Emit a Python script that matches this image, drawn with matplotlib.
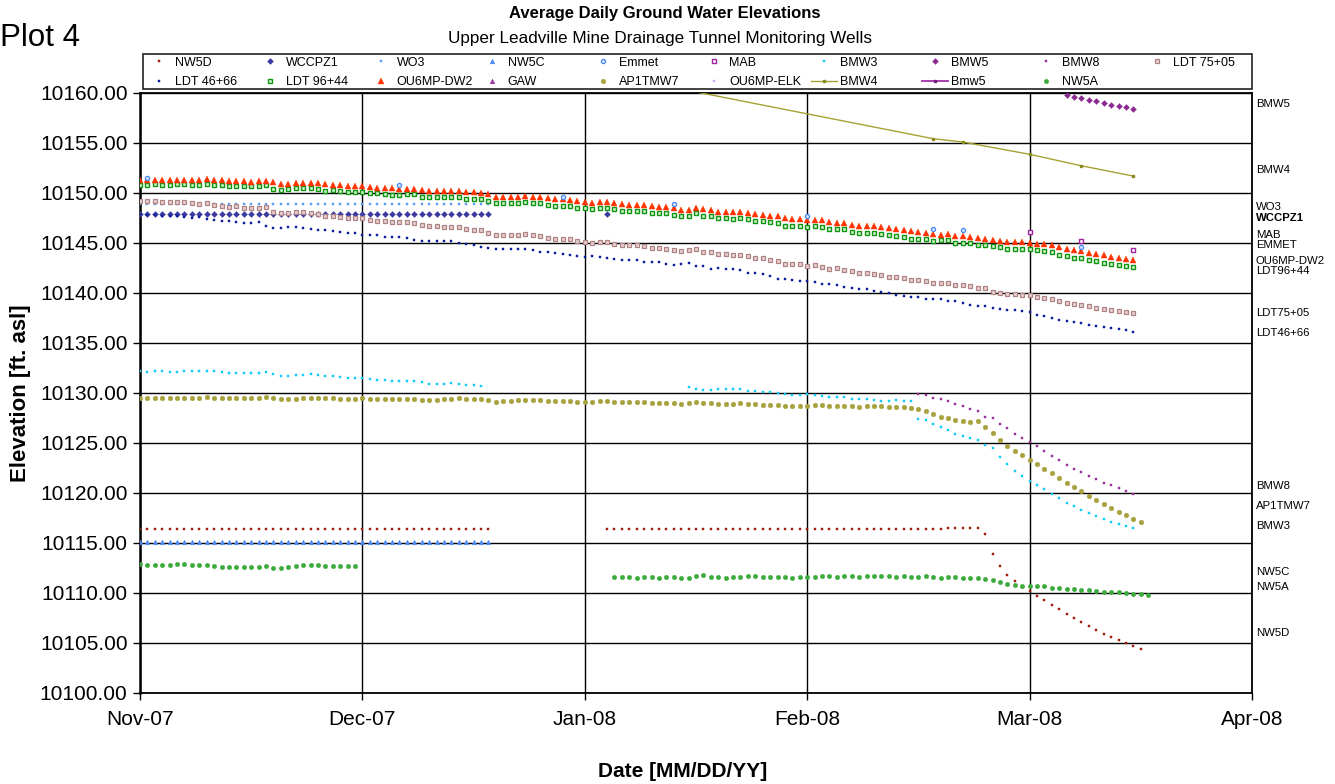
import numpy as np
import matplotlib
matplotlib.use("Agg")
import matplotlib.pyplot as plt
from matplotlib.transforms import blended_transform_factory
from matplotlib.patches import Rectangle

plt.rcParams['font.family'] = ['Liberation Sans', 'DejaVu Sans']

# ---------------------------------------------------------------- axes data
# x values are days counted from 01-Nov-2007 on the chart's 30-day grid
X_TICKS = [0, 30, 60, 90, 120, 150]
X_TICK_LABELS = ['Nov-07', 'Dec-07', 'Jan-08', 'Feb-08', 'Mar-08', 'Apr-08']
Y_TICKS = [10100, 10105, 10110, 10115, 10120, 10125, 10130,
           10135, 10140, 10145, 10150, 10155, 10160]

# ---------------------------------------------------------------- series
NW5D_A_START = 0
NW5D_A = [10116.4, 10116.4, 10116.4, 10116.4, 10116.4, 10116.4, 10116.4, 10116.4, 10116.4, 10116.4, 10116.4, 10116.4,
          10116.4, 10116.4, 10116.4, 10116.4, 10116.4, 10116.4, 10116.4, 10116.4, 10116.4, 10116.4, 10116.4, 10116.4,
          10116.4, 10116.4, 10116.4, 10116.4, 10116.4, 10116.4, 10116.4, 10116.4, 10116.4, 10116.4, 10116.4, 10116.4,
          10116.4, 10116.4, 10116.4, 10116.4, 10116.4, 10116.4, 10116.4, 10116.4, 10116.4, 10116.4, 10116.4, 10116.4]
NW5D_B_START = 63
NW5D_B = [10116.4, 10116.4, 10116.4, 10116.4, 10116.4, 10116.4, 10116.4, 10116.4, 10116.4, 10116.4, 10116.4, 10116.4,
          10116.4, 10116.4, 10116.4, 10116.4, 10116.4, 10116.4, 10116.4, 10116.4, 10116.4, 10116.4, 10116.4, 10116.4,
          10116.4, 10116.4, 10116.4, 10116.4, 10116.4, 10116.4, 10116.4, 10116.4, 10116.4, 10116.4, 10116.4, 10116.4,
          10116.4, 10116.4, 10116.4, 10116.4, 10116.4, 10116.4, 10116.4, 10116.4, 10116.4, 10116.4,
          10116.47, 10116.47, 10116.47, 10116.47, 10116.47,
          10115.87, 10113.87, 10112.67, 10111.8, 10111.17, 10110.63, 10110.17, 10109.7, 10109.27, 10108.8, 10108.37,
          10107.87, 10107.5, 10107.07, 10106.67, 10106.3, 10105.93, 10105.6, 10105.3, 10105.0, 10104.7, 10104.4]

WCCPZ1_A_START = 0
WCCPZ1_A = [10147.93, 10147.93, 10147.93, 10147.93, 10147.93, 10147.93, 10147.93, 10147.93, 10147.93, 10147.93, 10147.93, 10147.93,
            10147.93, 10147.93, 10147.93, 10147.93, 10147.93, 10147.93, 10147.93, 10147.93, 10147.93, 10147.93, 10147.93, 10147.93,
            10147.93, 10147.93, 10147.93, 10147.93, 10147.93, 10147.93, 10147.93, 10147.93, 10147.93, 10147.93, 10147.93, 10147.93,
            10147.93, 10147.93, 10147.93, 10147.93, 10147.93, 10147.93, 10147.93, 10147.93, 10147.93, 10147.93, 10147.93, 10147.93]
WCCPZ1_B_START = 63
WCCPZ1_B = [10147.9]

WO3_START = 0
WO3 = [10148.93, 10148.93, 10148.93, 10148.93, 10148.93, 10148.93, 10148.93, 10148.93, 10148.93, 10148.93, 10148.93, 10148.93,
       10148.93, 10148.93, 10148.93, 10148.93, 10148.93, 10148.93, 10148.93, 10148.93, 10148.93, 10148.93, 10148.93, 10148.93,
       10148.93, 10148.93, 10148.93, 10148.93, 10148.93, 10148.93, 10148.93, 10148.93, 10148.93, 10148.93, 10148.93, 10148.93,
       10148.93, 10148.93, 10148.93, 10148.93, 10148.93, 10148.93, 10148.93, 10148.93, 10148.93, 10148.93, 10148.93, 10148.93]

NW5C_START = 0
NW5C = [10115.1, 10115.1, 10115.1, 10115.1, 10115.1, 10115.1, 10115.1, 10115.1, 10115.1, 10115.1, 10115.1, 10115.1,
        10115.1, 10115.1, 10115.1, 10115.1, 10115.1, 10115.1, 10115.1, 10115.1, 10115.1, 10115.1, 10115.1, 10115.1,
        10115.1, 10115.1, 10115.1, 10115.1, 10115.1, 10115.1, 10115.1, 10115.1, 10115.1, 10115.1, 10115.1, 10115.1,
        10115.1, 10115.1, 10115.1, 10115.1, 10115.1, 10115.1, 10115.1, 10115.1, 10115.1, 10115.1, 10115.1, 10115.1]

EMMET_DAYS = [1, 35, 57, 72, 90, 107, 111, 127]
EMMET = [10151.47, 10150.83, 10149.63, 10148.87, 10147.75, 10146.42, 10146.26, 10144.6]

MAB_DAYS = [120, 127, 134]
MAB = [10146.06, 10145.23, 10144.34]

BMW3_A_START = 0
BMW3_A = [10132.17, 10132.13, 10132.17, 10132.17, 10132.13, 10132.13, 10132.23, 10132.2, 10132.17, 10132.23,
          10132.17, 10132.07, 10132.03, 10132.03, 10132.0, 10131.97, 10132.0, 10132.1, 10131.93, 10131.73,
          10131.73, 10131.77, 10131.83, 10131.87, 10131.83, 10131.73, 10131.67, 10131.63, 10131.5, 10131.47,
          10131.5, 10131.37, 10131.3, 10131.3, 10131.2, 10131.17, 10131.2, 10131.23, 10131.07, 10130.93,
          10130.93, 10130.93, 10130.97, 10130.87, 10130.8, 10130.8, 10130.73]
BMW3_B_START = 74
BMW3_B = [10130.63, 10130.37, 10130.3, 10130.33, 10130.4, 10130.43, 10130.43, 10130.37, 10130.23, 10130.2,
          10130.1, 10130.07, 10129.97, 10129.87, 10129.77, 10129.83, 10129.87, 10129.8, 10129.7, 10129.6,
          10129.57, 10129.57, 10129.43, 10129.37, 10129.37, 10129.27, 10129.17, 10129.17, 10129.3, 10129.23,
          10129.2,
          10127.4, 10127.27, 10126.9, 10126.57, 10126.33, 10125.93, 10125.7, 10125.47, 10125.27, 10124.8,
          10124.5, 10123.63, 10122.87, 10122.2, 10121.67, 10121.23, 10120.8, 10120.37, 10119.93, 10119.5,
          10119.03, 10118.7, 10118.3, 10117.97, 10117.67, 10117.37, 10117.1, 10116.9, 10116.67, 10116.47]

BMW5_START = 125
BMW5 = [10159.83, 10159.64, 10159.54, 10159.34, 10159.17, 10158.97, 10158.84, 10158.74, 10158.61, 10158.41]

BMW8_START = 105
BMW8 = [10129.93, 10129.8, 10129.47, 10129.37, 10129.17, 10128.87, 10128.7, 10128.43, 10128.23, 10127.63,
        10127.5, 10126.93, 10126.47, 10125.93, 10125.5, 10125.07, 10124.67, 10124.2, 10123.73, 10123.3,
        10122.83, 10122.43, 10122.1, 10121.7, 10121.37, 10121.03, 10120.77, 10120.47, 10120.2, 10119.93]

LDT7505_START = 0
LDT7505 = [10149.17, 10149.17, 10149.2, 10149.13, 10149.07, 10149.07, 10149.13, 10148.97, 10148.93, 10148.97,
           10148.8, 10148.73, 10148.57, 10148.67, 10148.5, 10148.47, 10148.47, 10148.57, 10148.07, 10147.97,
           10147.97, 10148.07, 10148.07, 10148.0, 10147.87, 10147.73, 10147.73, 10147.6, 10147.53, 10147.5,
           10147.5, 10147.33, 10147.23, 10147.23, 10147.1, 10147.1, 10147.07, 10147.03, 10146.77, 10146.67,
           10146.67, 10146.63, 10146.63, 10146.57, 10146.37, 10146.33, 10146.27, 10146.03, 10145.8, 10145.83,
           10145.83, 10145.83, 10145.9, 10145.83, 10145.73, 10145.53,
           10145.45,
           10145.4, 10145.37, 10145.2, 10145.1, 10145.0, 10145.13, 10145.07, 10144.9, 10144.8, 10144.77,
           10144.77, 10144.67, 10144.53, 10144.47, 10144.43, 10144.27, 10144.17, 10144.27, 10144.37, 10144.1,
           10144.07, 10143.87, 10143.9, 10143.77, 10143.83, 10143.7, 10143.5, 10143.47, 10143.33, 10143.17,
           10142.93, 10142.93, 10142.87, 10142.7, 10142.83, 10142.63, 10142.43, 10142.47, 10142.33, 10142.17,
           10142.03, 10142.03, 10141.93, 10141.83, 10141.63, 10141.57, 10141.53, 10141.3, 10141.27, 10141.17,
           10141.03, 10141.03, 10141.0, 10140.8, 10140.83, 10140.67, 10140.53,
           10140.46, 10140.13, 10139.97, 10139.87, 10139.87, 10139.8, 10139.8, 10139.64, 10139.54, 10139.37,
           10139.21, 10139.01, 10138.87, 10138.81, 10138.68, 10138.54, 10138.44, 10138.31, 10138.25, 10138.15,
           10138.01]

LDT4666_START = 0
LDT4666 = [10147.87, 10147.8, 10147.8, 10147.67, 10147.7, 10147.73, 10147.57, 10147.5, 10147.57, 10147.37,
           10147.27, 10147.2, 10147.2, 10147.07, 10147.03, 10147.03, 10147.13, 10146.67, 10146.5, 10146.53,
           10146.63, 10146.6, 10146.53, 10146.4, 10146.27, 10146.27, 10146.2, 10146.07, 10146.03, 10146.03,
           10145.83, 10145.77, 10145.77, 10145.63, 10145.6, 10145.57, 10145.53, 10145.27, 10145.23, 10145.23,
           10145.23, 10145.17, 10145.17, 10145.0, 10144.87, 10144.83, 10144.6, 10144.5, 10144.4, 10144.4,
           10144.43, 10144.43, 10144.4, 10144.3, 10144.1, 10144.13,
           10144.0,
           10143.9, 10143.77, 10143.67, 10143.57, 10143.67, 10143.6, 10143.5, 10143.4, 10143.3, 10143.33,
           10143.33, 10143.13, 10143.07, 10143.07, 10142.93, 10142.8, 10142.87, 10142.97, 10142.67, 10142.67,
           10142.43, 10142.47, 10142.37, 10142.37, 10142.27, 10142.03, 10142.0, 10141.9, 10141.67, 10141.4,
           10141.37, 10141.33, 10141.2, 10141.23, 10141.1, 10140.9, 10140.9, 10140.8, 10140.63, 10140.47,
           10140.43, 10140.37, 10140.23, 10140.07, 10139.97, 10139.83, 10139.67, 10139.63, 10139.57, 10139.37,
           10139.4, 10139.37, 10139.17, 10139.17, 10138.97, 10138.8, 10138.7,
           10138.71, 10138.54, 10138.38, 10138.31, 10138.28, 10138.21, 10138.08, 10137.81, 10137.68, 10137.48,
           10137.35, 10137.22, 10137.15, 10136.99, 10136.85, 10136.72, 10136.59, 10136.52, 10136.42, 10136.29,
           10136.13]

LDT9644_START = 0
LDT9644 = [10150.8, 10150.8, 10150.87, 10150.83, 10150.8, 10150.87, 10150.93, 10150.83, 10150.83, 10150.93,
           10150.77, 10150.77, 10150.7, 10150.73, 10150.67, 10150.67, 10150.7, 10150.83, 10150.43, 10150.3,
           10150.37, 10150.47, 10150.5, 10150.47, 10150.37, 10150.23, 10150.27, 10150.23, 10150.13, 10150.13,
           10150.13, 10149.97, 10149.97, 10149.9, 10149.83, 10149.83, 10149.87, 10149.9, 10149.63, 10149.6,
           10149.6, 10149.63, 10149.63, 10149.6, 10149.43, 10149.37, 10149.37, 10149.17, 10148.97, 10148.97,
           10149.0, 10149.03, 10149.07, 10149.03, 10148.97, 10148.77,
           10148.75,
           10148.7, 10148.7, 10148.53, 10148.47, 10148.4, 10148.5, 10148.47, 10148.37, 10148.17, 10148.2,
           10148.23, 10148.2, 10148.0, 10148.0, 10147.97, 10147.83, 10147.67, 10147.73, 10147.97, 10147.73,
           10147.7, 10147.47, 10147.53, 10147.43, 10147.47, 10147.37, 10147.17, 10147.17, 10147.07, 10146.97,
           10146.73, 10146.73, 10146.73, 10146.6, 10146.67, 10146.63, 10146.37, 10146.4, 10146.37, 10146.13,
           10146.03, 10146.03, 10146.03, 10145.9, 10145.77, 10145.7, 10145.6, 10145.43, 10145.4, 10145.37,
           10145.2, 10145.27, 10145.3, 10145.03, 10145.03, 10144.97, 10144.83,
           10144.77, 10144.7, 10144.6, 10144.4, 10144.37, 10144.37, 10144.37, 10144.27, 10144.17, 10144.07,
           10143.84, 10143.74, 10143.54, 10143.48, 10143.28, 10143.18, 10143.01, 10142.95, 10142.81, 10142.75,
           10142.65]

DW2_START = 0
DW2 = [10151.3, 10151.3, 10151.3, 10151.27, 10151.27, 10151.3, 10151.33, 10151.33, 10151.3, 10151.37,
       10151.33, 10151.27, 10151.23, 10151.2, 10151.17, 10151.13, 10151.2, 10151.23, 10151.1, 10150.93,
       10150.93, 10151.0, 10151.03, 10151.03, 10150.97, 10150.9, 10150.83, 10150.8, 10150.73, 10150.73,
       10150.7, 10150.63, 10150.53, 10150.5, 10150.5, 10150.4, 10150.43, 10150.43, 10150.33, 10150.23,
       10150.2, 10150.2, 10150.2, 10150.2, 10150.13, 10150.07, 10150.03, 10149.9, 10149.63, 10149.63,
       10149.63, 10149.63, 10149.67, 10149.63, 10149.6, 10149.5,
       10149.45,
       10149.4, 10149.3, 10149.2, 10149.1, 10149.0, 10149.1, 10149.1, 10149.0, 10148.9, 10148.8,
       10148.8, 10148.8, 10148.7, 10148.6, 10148.6, 10148.5, 10148.33, 10148.33, 10148.47, 10148.4,
       10148.3, 10148.13, 10148.1, 10148.07, 10148.07, 10148.0, 10147.9, 10147.8, 10147.7, 10147.7,
       10147.5, 10147.4, 10147.4, 10147.3, 10147.3, 10147.3, 10147.07, 10147.0, 10147.0, 10146.83,
       10146.7, 10146.7, 10146.67, 10146.6, 10146.5, 10146.4, 10146.33, 10146.17, 10146.07, 10146.0,
       10145.87, 10145.8, 10145.9, 10145.7, 10145.7, 10145.6, 10145.53,
       10145.36, 10145.33, 10145.23, 10145.13, 10145.07, 10145.07, 10144.97, 10144.9, 10144.87, 10144.77,
       10144.64, 10144.4, 10144.3, 10144.17, 10144.0, 10143.87, 10143.77, 10143.64, 10143.51, 10143.44,
       10143.34]

AP1TMW7_START = 0
AP1TMW7 = [10129.47, 10129.47, 10129.5, 10129.5, 10129.47, 10129.5, 10129.53, 10129.53, 10129.5, 10129.57,
           10129.53, 10129.5, 10129.5, 10129.5, 10129.5, 10129.5, 10129.53, 10129.6, 10129.5, 10129.37,
           10129.4, 10129.43, 10129.5, 10129.5, 10129.5, 10129.47, 10129.47, 10129.43, 10129.43, 10129.43,
           10129.47, 10129.4, 10129.4, 10129.4, 10129.37, 10129.4, 10129.43, 10129.43, 10129.33, 10129.3,
           10129.3, 10129.4, 10129.4, 10129.47, 10129.4, 10129.37, 10129.37, 10129.27, 10129.13, 10129.2,
           10129.2, 10129.27, 10129.33, 10129.33, 10129.27, 10129.2,
           10129.23, 10129.23, 10129.2, 10129.13, 10129.1, 10129.07, 10129.17, 10129.17, 10129.13, 10129.07,
           10129.07, 10129.1, 10129.1, 10129.03, 10129.0, 10129.0, 10128.97, 10128.9, 10128.97, 10129.07,
           10129.03, 10129.03, 10128.93, 10128.93, 10128.93, 10128.97, 10128.93, 10128.9, 10128.83, 10128.83,
           10128.83, 10128.73, 10128.73, 10128.73, 10128.73, 10128.8, 10128.83, 10128.7, 10128.7, 10128.73,
           10128.73, 10128.63, 10128.67, 10128.7, 10128.67, 10128.63, 10128.6, 10128.57, 10128.53, 10128.43,
           10128.2, 10127.87, 10127.63, 10127.53, 10127.3,
           10127.17, 10127.1, 10127.2, 10126.63, 10126.0, 10125.33, 10124.73, 10124.23, 10123.77, 10123.33,
           10122.9, 10122.43, 10122.0, 10121.53, 10121.03, 10120.6, 10120.17, 10119.73, 10119.27, 10118.9,
           10118.53, 10118.13, 10117.8, 10117.43, 10117.1]

BMW4_DAYS = [60, 107, 111, 120, 127, 134]
BMW4 = [10162.3, 10155.43, 10155.1, 10153.87, 10152.72, 10151.69]

NW5A_A_START = 0
NW5A_A = [10112.87, 10112.8, 10112.8, 10112.8, 10112.8, 10112.87, 10112.9, 10112.8, 10112.8, 10112.77,
          10112.67, 10112.63, 10112.57, 10112.6, 10112.6, 10112.6, 10112.6, 10112.73, 10112.5, 10112.5,
          10112.6, 10112.73, 10112.77, 10112.8, 10112.77, 10112.7, 10112.73, 10112.73, 10112.7, 10112.73]
NW5A_B_START = 64
NW5A_B = [10111.6, 10111.6, 10111.6, 10111.53, 10111.63, 10111.6, 10111.5, 10111.57, 10111.6, 10111.53,
          10111.53, 10111.67, 10111.77, 10111.63, 10111.63, 10111.53, 10111.63, 10111.63, 10111.7, 10111.7,
          10111.6, 10111.6, 10111.63, 10111.6, 10111.53, 10111.6, 10111.63, 10111.63, 10111.73, 10111.7,
          10111.6, 10111.67, 10111.67, 10111.6, 10111.67, 10111.7, 10111.7, 10111.7, 10111.63, 10111.67,
          10111.63, 10111.6, 10111.7, 10111.63, 10111.53, 10111.63, 10111.6,
          10111.5, 10111.47, 10111.47, 10111.43, 10111.33, 10111.13, 10110.87, 10110.77, 10110.73, 10110.73,
          10110.73, 10110.67, 10110.53, 10110.47, 10110.4, 10110.37, 10110.33, 10110.27, 10110.17, 10110.13,
          10110.1, 10110.07, 10109.97, 10109.93, 10109.93, 10109.8]

# series present in the legend without plotted values
GAW = []
OU6MP_ELK = []
BMW5_LINE = []

# right-hand annotations (label, elevation)
RIGHT_LABELS = ['BMW5', 'BMW4', 'WO3', 'WCCPZ1', 'MAB', 'EMMET', 'OU6MP-DW2', 'LDT96+44',
                'LDT75+05', 'LDT46+66', 'BMW8', 'AP1TMW7', 'BMW3', 'NW5C', 'NW5A', 'NW5D']
RIGHT_LABEL_Y = [10158.9, 10152.3, 10148.55, 10147.5, 10145.75, 10144.8, 10143.25, 10142.25,
                 10138.0, 10136.05, 10120.7, 10118.7, 10116.7, 10112.1, 10110.55, 10106.0]

# ---------------------------------------------------------------- styles
STYLE = {
    'NW5D':      dict(ls='none', marker='s', ms=1.8, mfc='#A01C0C', mec='#A01C0C', mew=0.3),
    'WCCPZ1':    dict(ls='none', marker='D', ms=3.0, mfc='#3A3AA0', mec='#3A3AA0', mew=0.3),
    'WO3':       dict(ls='none', marker='s', ms=1.9, mfc='#5E9CFA', mec='#5E9CFA', mew=0.3),
    'NW5C':      dict(ls='none', marker='^', ms=3.4, mfc='#4A88F5', mec='#4A88F5', mew=0.3),
    'Emmet':     dict(ls='none', marker='o', ms=3.0, mfc='#D8E6FF', mec='#4A88F5', mew=0.9),
    'MAB':       dict(ls='none', marker='s', ms=3.4, mfc='white', mec='#A020A0', mew=1.0),
    'BMW3':      dict(ls='none', marker='s', ms=1.8, mfc='#10CCF8', mec='#10CCF8', mew=0.3),
    'BMW5':      dict(ls='none', marker='D', ms=3.0, mfc='#8C2A92', mec='#8C2A92', mew=0.3),
    'BMW8':      dict(ls='none', marker='s', ms=1.8, mfc='#9A309A', mec='#9A309A', mew=0.3),
    'LDT 75+05': dict(ls='none', marker='s', ms=2.9, mfc='#E6D2D2', mec='#B08282', mew=0.9),
    'LDT 46+66': dict(ls='none', marker='s', ms=1.9, mfc='#0C1E9C', mec='#0C1E9C', mew=0.3),
    'LDT 96+44': dict(ls='none', marker='s', ms=2.9, mfc='#D5F0D5', mec='#0E960E', mew=1.0),
    'OU6MP-DW2': dict(ls='none', marker='^', ms=4.0, mfc='#FF3300', mec='#FF3300', mew=0.3),
    'GAW':       dict(ls='none', marker='^', ms=3.4, mfc='#993399', mec='#993399', mew=0.3),
    'AP1TMW7':   dict(ls='none', marker='o', ms=3.4, mfc='#A8A23E', mec='#A8A23E', mew=0.3),
    'OU6MP-ELK': dict(ls='none', marker='s', ms=1.9, mfc='#CDA8FF', mec='#CDA8FF', mew=0.3),
    'BMW4':      dict(ls='-', lw=1.0, color='#A6A232', marker='s', ms=1.8, mfc='#8C8820', mec='#8C8820'),
    'Bmw5':      dict(ls='-', lw=1.3, color='#A030A8', marker='s', ms=1.8, mfc='#7A1A80', mec='#7A1A80'),
    'NW5A':      dict(ls='none', marker='o', ms=3.2, mfc='#3DAA3D', mec='#3DAA3D', mew=0.3),
}

SEGMENTS = {
    'NW5D': [(NW5D_A_START, NW5D_A), (NW5D_B_START, NW5D_B)],
    'WCCPZ1': [(WCCPZ1_A_START, WCCPZ1_A), (WCCPZ1_B_START, WCCPZ1_B)],
    'WO3': [(WO3_START, WO3)],
    'NW5C': [(NW5C_START, NW5C)],
    'BMW3': [(BMW3_A_START, BMW3_A), (BMW3_B_START, BMW3_B)],
    'BMW5': [(BMW5_START, BMW5)],
    'BMW8': [(BMW8_START, BMW8)],
    'LDT 75+05': [(LDT7505_START, LDT7505)],
    'LDT 46+66': [(LDT4666_START, LDT4666)],
    'LDT 96+44': [(LDT9644_START, LDT9644)],
    'OU6MP-DW2': [(DW2_START, DW2)],
    'AP1TMW7': [(AP1TMW7_START, AP1TMW7)],
    'NW5A': [(NW5A_A_START, NW5A_A), (NW5A_B_START, NW5A_B)],
}
POINT_SERIES = {
    'Emmet': (EMMET_DAYS, EMMET),
    'MAB': (MAB_DAYS, MAB),
    'BMW4': (BMW4_DAYS, BMW4),
    'GAW': ([], GAW),
    'OU6MP-ELK': ([], OU6MP_ELK),
    'Bmw5': ([], BMW5_LINE),
}

LEGEND_ROW1 = ['NW5D', 'WCCPZ1', 'WO3', 'NW5C', 'Emmet', 'MAB', 'BMW3', 'BMW5', 'BMW8', 'LDT 75+05']
LEGEND_ROW2 = ['LDT 46+66', 'LDT 96+44', 'OU6MP-DW2', 'GAW', 'AP1TMW7', 'OU6MP-ELK', 'BMW4', 'Bmw5', 'NW5A']

DRAW_ORDER = ['NW5D', 'NW5C', 'NW5A', 'AP1TMW7', 'BMW3', 'BMW8', 'WO3', 'WCCPZ1',
              'LDT 46+66', 'LDT 75+05', 'LDT 96+44', 'OU6MP-DW2', 'Emmet', 'MAB',
              'BMW4', 'BMW5', 'GAW', 'OU6MP-ELK', 'Bmw5']

# ---------------------------------------------------------------- figure
W, H = 1335, 784
fig = plt.figure(figsize=(W / 100, H / 100), dpi=100)
ax = fig.add_axes([140 / W, 1 - 693 / H, 1112 / W, 600 / H])

handles = {}
for name in DRAW_ORDER:
    st = STYLE[name]
    h = None
    if name in SEGMENTS:
        for start, vals in SEGMENTS[name]:
            d = np.arange(start, start + len(vals))
            h, = ax.plot(d, vals, label=name, zorder=3, **st)
    else:
        days, vals = POINT_SERIES[name]
        h, = ax.plot(days, vals, label=name, zorder=3, **st)
    handles[name] = h

ax.set_xlim(X_TICKS[0], X_TICKS[-1])
ax.set_ylim(Y_TICKS[0], Y_TICKS[-1])
ax.set_xticks(X_TICKS)
ax.set_xticklabels(X_TICK_LABELS)
ax.set_yticks(Y_TICKS)
ax.set_yticklabels(['%.2f' % v for v in Y_TICKS])
ax.tick_params(axis='both', direction='out', length=5, width=1.0, color='black',
               labelsize=15, pad=4)
ax.tick_params(axis='x', pad=7)
ax.grid(True, color='black', lw=1.0)
ax.set_axisbelow(True)
for sp in ax.spines.values():
    sp.set_color('black')
    sp.set_linewidth(1.3)
ax.spines['left'].set_linewidth(1.8)

ax.set_xlabel('Date [MM/DD/YY]', fontsize=15, fontweight='bold', labelpad=24)
ax.xaxis.label.set_x((683 - 140) / 1112)
ax.set_ylabel('Elevation [ft. asl]', fontsize=16, fontweight='bold', labelpad=6)

# right-hand labels
tr = blended_transform_factory(ax.transAxes, ax.transData)
for lab, yv in zip(RIGHT_LABELS, RIGHT_LABEL_Y):
    ax.text(1.0035, yv, lab, transform=tr, ha='left', va='center', fontsize=8.2,
            fontweight='bold' if lab == 'WCCPZ1' else 'normal', clip_on=False)

# titles
fig.text(665 / W, 1 - 13.5 / H, 'Average Daily Ground Water Elevations',
         ha='center', va='center', fontsize=12, fontweight='bold')
fig.text(660 / W, 1 - 38 / H, 'Upper Leadville Mine Drainage Tunnel Monitoring Wells',
         ha='center', va='center', fontsize=12.3)
fig.text(0 / W, 1 - 38 / H, 'Plot 4', ha='left', va='center', fontsize=22.5)

# legend: 10 equally spaced columns, two rows
col_w = 110.9
for k in range(len(LEGEND_ROW1)):
    names = [LEGEND_ROW1[k]] + ([LEGEND_ROW2[k]] if k < len(LEGEND_ROW2) else [])
    fig.legend([handles[n] for n in names], names, loc='upper left',
               bbox_to_anchor=((146 + col_w * k) / W, 1 - 56.5 / H),
               bbox_transform=fig.transFigure, frameon=False, fontsize=9,
               handlelength=2.08, handletextpad=0.24, borderpad=0, borderaxespad=0,
               labelspacing=0.6, numpoints=1)
fig.add_artist(Rectangle((142.7 / W, 1 - 89.3 / H), (1251.5 - 142.7) / W, 35.3 / H,
                         transform=fig.transFigure, fill=False, ec='#222222', lw=1.2))

fig.savefig('out.png', dpi=100)
